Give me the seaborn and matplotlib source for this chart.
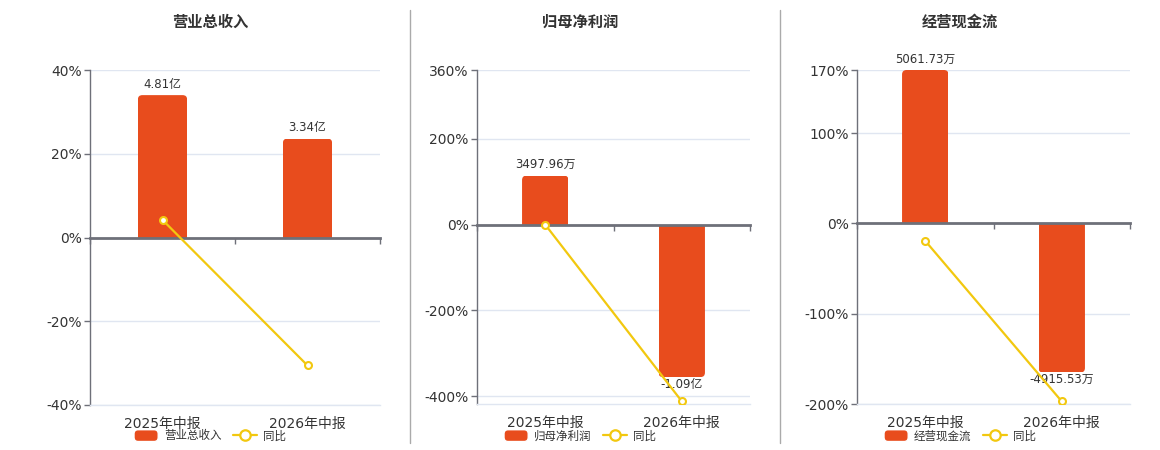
import numpy as np
import pandas as pd
import matplotlib
matplotlib.use("Agg")
import matplotlib.pyplot as plt
import seaborn as sns
from matplotlib.patches import FancyBboxPatch, Rectangle, Patch
from matplotlib.lines import Line2D
from matplotlib.legend_handler import HandlerPatch

sns.set_style("white")
plt.rcParams['font.family'] = ['DejaVu Sans', 'Noto Sans CJK SC']

# ---------------- data ----------------
categories = ["2025年中报", "2026年中报"]
titles = ["营业总收入", "归母净利润", "经营现金流"]

revenue_values = [4.81, 3.34]            # 亿
revenue_labels = ["4.81亿", "3.34亿"]
revenue_yoy = [4.2, -30.56]              # %

profit_values = [3497.96, -10900.0]      # 万
profit_labels = ["3497.96万", "-1.09亿"]
profit_yoy = [-0.3, -411.6]              # %

cash_values = [5061.73, -4915.53]        # 万
cash_labels = ["5061.73万", "-4915.53万"]
cash_yoy = [-19.3, -197.1]               # %

yoy_ticks_1 = [-40, -20, 0, 20, 40]
yoy_ticks_2 = [-400, -200, 0, 200, 360]
yoy_ticks_3 = [-200, -100, 0, 100, 170]

# ---------------- style ----------------
RED = "#E84C1D"
YELLOW = "#F2C80F"
AXIS = "#6E7079"
GRID = "#E0E6F1"
TXT = "#333333"
W, H = 1160, 450

panels = [
    dict(title=titles[0], vals=revenue_values, labels=revenue_labels, yoy=revenue_yoy,
         ticks=yoy_ticks_1, ylim=(-40, 40), factor=34.0 / 4.81,
         rect=(90, 70, 380, 405), cx=210),
    dict(title=titles[1], vals=profit_values, labels=profit_labels, yoy=profit_yoy,
         ticks=yoy_ticks_2, ylim=(-418, 360), factor=0.0326,
         rect=(477, 70, 750, 404), cx=580),
    dict(title=titles[2], vals=cash_values, labels=cash_labels, yoy=cash_yoy,
         ticks=yoy_ticks_3, ylim=(-200, 170), factor=170 / 5061.73,
         rect=(857, 70, 1130, 404), cx=960),
]

fig = plt.figure(figsize=(W / 100, H / 100), dpi=100)


def round_bars(axb, r_px=4.5):
    pos = axb.get_position()
    wpx, hpx = pos.width * W, pos.height * H
    x0, x1 = axb.get_xlim()
    y0, y1 = axb.get_ylim()
    rx = r_px * (x1 - x0) / wpx
    ry = r_px * (y1 - y0) / hpx
    for p in list(axb.patches):
        x, w = p.get_x(), p.get_width()
        y, h = p.get_y(), p.get_height()
        lo, hi = min(y, y + h), max(y, y + h)
        if lo >= 0:
            elo, ehi = lo - 2 * ry, hi
        else:
            elo, ehi = lo, hi + 2 * ry
        fb = FancyBboxPatch((x, elo), w, ehi - elo,
                            boxstyle=f"round,pad=0,rounding_size={rx}",
                            mutation_aspect=ry / rx,
                            facecolor=RED, edgecolor="none", zorder=2)
        axb.add_patch(fb)
        fb.set_clip_path(Rectangle((x, lo), w, hi - lo, transform=axb.transData))
        p.set_visible(False)


for P in panels:
    l, t, r, b = P["rect"]
    ax = fig.add_axes([l / W, 1 - b / H, (r - l) / W, (b - t) / H])
    axb = ax.twinx()
    axl = ax.twinx()

    # bars (own hidden scale, aligned at zero)
    df = pd.DataFrame({"cat": categories, "val": P["vals"]})
    sns.barplot(data=df, x="cat", y="val", ax=axb, color=RED, saturation=1,
                width=0.34, linewidth=0)
    f = P["factor"]
    axb.set_ylim(P["ylim"][0] / f, P["ylim"][1] / f)

    # yoy line
    dl = pd.DataFrame({"pos": np.arange(len(categories)), "yoy": P["yoy"]})
    sns.lineplot(data=dl, x="pos", y="yoy", ax=axl, color=YELLOW, linewidth=1.6,
                 marker="o", markersize=5, markerfacecolor="white",
                 markeredgecolor=YELLOW, markeredgewidth=1.5, zorder=3, sort=False)
    axl.set_ylim(*P["ylim"])

    for a in (ax, axb, axl):
        a.set_xlim(-0.5, 1.5)
        a.set_xlabel("")
        a.set_ylabel("")

    # percent axis
    ax.set_ylim(*P["ylim"])
    ax.set_yticks(P["ticks"], [f"{v}%" for v in P["ticks"]])
    ax.yaxis.grid(True, color=GRID, linewidth=1)
    ax.set_axisbelow(True)
    ax.tick_params(axis="y", left=True, length=4, width=1, color=AXIS,
                   labelsize=10, labelcolor=TXT, pad=2)
    ax.set_xticks(range(len(categories)), categories)
    ax.set_xticks([-0.5, 0.5, 1.5], minor=True)
    ax.tick_params(axis="x", which="both", bottom=False, labelbottom=True,
                   labelsize=10, labelcolor=TXT, pad=5)
    for s in ("top", "right"):
        ax.spines[s].set_visible(False)
    ax.spines["left"].set_color(AXIS)
    ax.spines["left"].set_linewidth(1)
    ax.spines["bottom"].set_color(GRID)
    ax.spines["bottom"].set_linewidth(1)

    axb.yaxis.set_visible(False)
    for s in axb.spines.values():
        s.set_visible(False)

    axl.yaxis.set_visible(False)
    for s in axl.spines.values():
        s.set_visible(False)
    axl.xaxis.set_visible(True)
    axl.spines["bottom"].set_visible(True)
    axl.spines["bottom"].set_position(("data", 0))
    axl.spines["bottom"].set_color(AXIS)
    axl.spines["bottom"].set_linewidth(2)
    axl.spines["bottom"].set_zorder(2.5)
    axl.tick_params(axis="x", which="major", bottom=False, top=False,
                    labelbottom=False, labeltop=False)
    axl.tick_params(axis="x", which="minor", bottom=True, top=False, length=4,
                    width=1, color=AXIS, direction="out")

    # bar labels
    for p, lab in zip(list(axb.patches), P["labels"]):
        xc = p.get_x() + p.get_width() / 2
        h = p.get_height()
        if h >= 0:
            axb.annotate(lab, (xc, h), xytext=(0, 3.3), textcoords="offset points",
                         ha="center", va="bottom", fontsize=8.5, color=TXT,
                         annotation_clip=False)
        else:
            axb.annotate(lab, (xc, h), xytext=(0, -0.5), textcoords="offset points",
                         ha="center", va="top", fontsize=8.5, color=TXT,
                         annotation_clip=False)

    round_bars(axb)

    # title
    fig.text(P["cx"] / W, 1 - 22 / H, P["title"], ha="center", va="center",
             fontsize=11, fontweight="bold", color=TXT)

    # legend
    def make_box(legend, orig_handle, xdescent, ydescent, width, height, fontsize):
        return FancyBboxPatch((-xdescent, -ydescent), width, height,
                              boxstyle="round,pad=0,rounding_size=3",
                              facecolor=RED, edgecolor="none")

    h_bar = Patch(facecolor=RED)
    h_line = Line2D([], [], color=YELLOW, linewidth=1.6, marker="o", markersize=7.5,
                    markerfacecolor="white", markeredgecolor=YELLOW, markeredgewidth=1.6)
    fig.legend([h_bar, h_line], [P["title"], "同比"], loc="center",
               bbox_to_anchor=(P["cx"] / W, 1 - 436 / H), ncol=2, frameon=False,
               fontsize=8.3, labelcolor=TXT, handlelength=2.1, handleheight=1.2,
               handletextpad=0.5, columnspacing=1.0, borderpad=0, borderaxespad=0,
               handler_map={Patch: HandlerPatch(patch_func=make_box)})

# separators
for xs in (410, 780):
    fig.add_artist(Line2D([xs / W, xs / W], [1 - 10 / H, 1 - 443 / H],
                          transform=fig.transFigure, color="#AAAAAA", linewidth=1))

fig.savefig("out.png", dpi=100, facecolor="white")
